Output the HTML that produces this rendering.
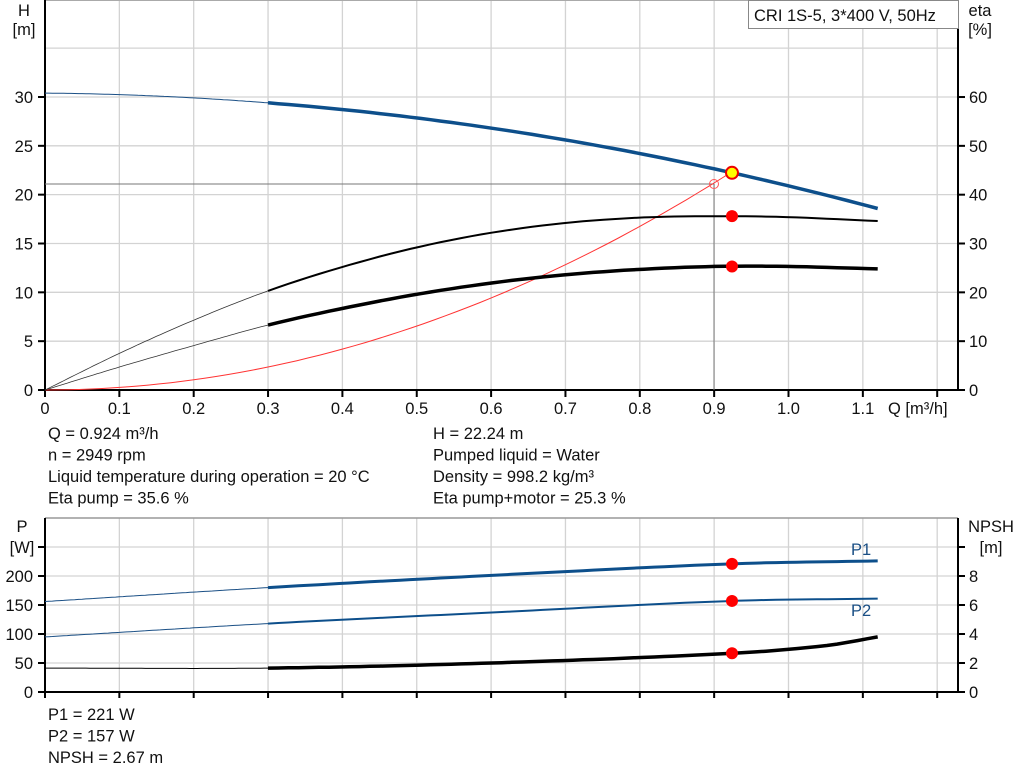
<!DOCTYPE html>
<html><head><meta charset="utf-8"><style>
html,body{margin:0;padding:0;background:#fff}
svg{display:block;font-family:"Liberation Sans",Arial,sans-serif}
</style></head><body>
<svg id="s" width="1024" height="781" xmlns="http://www.w3.org/2000/svg"></svg>
<script>
const s=document.getElementById('s');let h='';
const X0=45,DX=743.5; const xq=q=>X0+q*DX;
const yH=v=>390-v*9.767, yE=v=>390-v*4.883, yP=v=>692-v*0.58, yN=v=>692-v*14.5;
for(let i=1;i<=12;i++){h+=`<line x1="${xq(i/10)}" y1="0" x2="${xq(i/10)}" y2="390" stroke="#d3d3d3" stroke-width="1.3"/>`;}
for(let v=5;v<=35;v+=5){h+=`<line x1="45" y1="${yH(v)}" x2="958" y2="${yH(v)}" stroke="#d3d3d3" stroke-width="1.3"/>`;}
h+=`<line x1="45" y1="0.5" x2="958" y2="0.5" stroke="#aaa"/>`;
for(let i=1;i<=12;i++){h+=`<line x1="${xq(i/10)}" y1="518" x2="${xq(i/10)}" y2="692" stroke="#d3d3d3" stroke-width="1.3"/>`;}
for(let v=50;v<=250;v+=50){h+=`<line x1="45" y1="${yP(v)}" x2="958" y2="${yP(v)}" stroke="#d3d3d3" stroke-width="1.3"/>`;}
h+=`<line x1="45" y1="518" x2="958" y2="518" stroke="#999" stroke-width="1.5"/>`;
h+=`<g stroke="#000" stroke-width="2"><line x1="45" y1="0" x2="45" y2="391"/><line x1="958" y1="0" x2="958" y2="391"/><line x1="38" y1="390" x2="965" y2="390"/>
<line x1="45" y1="518" x2="45" y2="693"/><line x1="958" y1="518" x2="958" y2="693"/><line x1="38" y1="692" x2="965" y2="692"/></g>`;
let t='';
for(let v=0;v<=30;v+=5){let y=yH(v);h+=`<line x1="38" y1="${y}" x2="45" y2="${y}" stroke="#000" stroke-width="2"/>`;t+=`<text x="33" y="${y+6}" text-anchor="end">${v}</text>`;}
for(let v=0;v<=60;v+=10){let y=yE(v);h+=`<line x1="958" y1="${y}" x2="965" y2="${y}" stroke="#000" stroke-width="2"/>`;t+=`<text x="969" y="${y+6}">${v}</text>`;}
for(let i=0;i<=12;i++){let x=xq(i/10);h+=`<line x1="${x}" y1="390" x2="${x}" y2="397" stroke="#000" stroke-width="2"/>`;if(i<=11)t+=`<text x="${x}" y="414" text-anchor="middle">${i==0?'0':(i/10).toFixed(1)}</text>`;}
for(let v=0;v<=250;v+=50){let y=yP(v);h+=`<line x1="38" y1="${y}" x2="45" y2="${y}" stroke="#000" stroke-width="2"/>`;if(v<250)t+=`<text x="33" y="${y+6}" text-anchor="end">${v}</text>`;}
for(let v=0;v<=10;v+=2){let y=yN(v);h+=`<line x1="958" y1="${y}" x2="965" y2="${y}" stroke="#000" stroke-width="2"/>`;if(v<10)t+=`<text x="969" y="${y+6}">${v}</text>`;}
for(let i=0;i<=12;i++){let x=xq(i/10);h+=`<line x1="${x}" y1="692" x2="${x}" y2="698" stroke="#000" stroke-width="2"/>`;}
function path(f,a,b,ys){let p='';for(let k=0;k<=60;k++){let q=a+(b-a)*k/60;p+=(k?'L':'M')+xq(q).toFixed(1)+' '+ys(f(q)).toFixed(1);}return p;}
function interp(pts){return q=>{for(let i=0;i<pts.length-1;i++){let[a,va]=pts[i],[b,vb]=pts[i+1];if(q<=b+1e-9){let u=(q-a)/(b-a);
let m0=i>0?(vb-pts[i-1][1])/(b-pts[i-1][0]):(vb-va)/(b-a),m1=i<pts.length-2?(pts[i+2][1]-va)/(pts[i+2][0]-a):(vb-va)/(b-a);let d=b-a;
let u2=u*u,u3=u2*u;return (2*u3-3*u2+1)*va+(u3-2*u2+u)*d*m0+(-2*u3+3*u2)*vb+(u3-u2)*d*m1;}}return pts[pts.length-1][1];}}
const H=q=>30.4-0.691*q-8.807*q*q;
const EP=interp([[0,0],[0.1,7.5],[0.2,14.3],[0.3,20.3],[0.4,25.2],[0.5,29.2],[0.6,32.2],[0.7,34.2],[0.8,35.3],[0.9,35.6],[1.0,35.4],[1.12,34.6]]);
const ET=interp([[0,0],[0.1,4.7],[0.2,9.1],[0.3,13.3],[0.4,16.7],[0.5,19.6],[0.6,21.9],[0.7,23.6],[0.8,24.7],[0.9,25.3],[1.0,25.3],[1.12,24.8]]);
const P1=interp([[0,156],[0.3,180],[0.6,201],[0.924,221],[1.12,226]]);
const P2=interp([[0,95],[0.3,118],[0.6,137],[0.924,157],[1.12,161]]);
const NP=interp([[0,1.65],[0.3,1.65],[0.6,2.0],[0.924,2.67],[1.05,3.2],[1.12,3.8]]);
const sys=q=>26.17*q*q;
h+=`<line x1="45" y1="184" x2="714" y2="184" stroke="#777" stroke-width="1"/><line x1="714" y1="184" x2="714" y2="390" stroke="#777" stroke-width="1"/>`;
h+=`<path d="${path(sys,0,0.924,yH)}" fill="none" stroke="#f33" stroke-width="1"/>`;
h+=`<path d="${path(H,0,0.3,yH)}" fill="none" stroke="#1a4f85" stroke-width="1"/><path d="${path(H,0.3,1.12,yH)}" fill="none" stroke="#0d4f8b" stroke-width="3.5"/>`;
h+=`<path d="${path(EP,0,0.3,yE)}" fill="none" stroke="#333" stroke-width="0.8"/><path d="${path(EP,0.3,1.12,yE)}" fill="none" stroke="#000" stroke-width="2"/>`;
h+=`<path d="${path(ET,0,0.3,yE)}" fill="none" stroke="#333" stroke-width="0.8"/><path d="${path(ET,0.3,1.12,yE)}" fill="none" stroke="#000" stroke-width="3.5"/>`;
h+=`<path d="${path(P1,0,0.3,yP)}" fill="none" stroke="#1a4f85" stroke-width="1"/><path d="${path(P1,0.3,1.12,yP)}" fill="none" stroke="#0d4f8b" stroke-width="3"/>`;
h+=`<path d="${path(P2,0,0.3,yP)}" fill="none" stroke="#1a4f85" stroke-width="1"/><path d="${path(P2,0.3,1.12,yP)}" fill="none" stroke="#0d4f8b" stroke-width="2"/>`;
h+=`<path d="${path(NP,0,0.3,yN)}" fill="none" stroke="#000" stroke-width="1"/><path d="${path(NP,0.3,1.12,yN)}" fill="none" stroke="#000" stroke-width="3.5"/>`;
const qx=xq(0.924);
h+=`<circle cx="714" cy="184" r="4.5" fill="none" stroke="#f55" stroke-width="1"/>`;
h+=`<circle cx="${qx}" cy="${yH(22.24)}" r="6" fill="#ff0" stroke="#e00" stroke-width="2"/>`;
for(const y of [yE(35.6),yE(25.3),yP(221),yP(157),yN(2.67)])h+=`<circle cx="${qx}" cy="${y}" r="6" fill="#f00"/>`;
h+=`<rect x="748.5" y="0.5" width="210" height="28" fill="#fff" stroke="#888"/>`;
t+=`<text x="754" y="21">CRI 1S-5, 3*400 V, 50Hz</text>`;
t+=`<text x="24" y="16" text-anchor="middle">H</text><text x="24" y="35" text-anchor="middle">[m]</text>`;
t+=`<text x="980" y="16" text-anchor="middle">eta</text><text x="980" y="35" text-anchor="middle">[%]</text>`;
t+=`<text x="888" y="414">Q [m³/h]</text>`;
t+=`<text x="22" y="532" text-anchor="middle">P</text><text x="22" y="553" text-anchor="middle">[W]</text>`;
t+=`<text x="991" y="532" text-anchor="middle">NPSH</text><text x="991" y="553" text-anchor="middle">[m]</text>`;
t+=`<text x="851" y="555" fill="#1a4f85">P1</text><text x="851" y="616" fill="#1a4f85">P2</text>`;
const L=[['Q = 0.924 m³/h','H = 22.24 m'],['n = 2949 rpm','Pumped liquid = Water'],['Liquid temperature during operation = 20 °C','Density = 998.2 kg/m³'],['Eta pump = 35.6 %','Eta pump+motor = 25.3 %']];
L.forEach((r,i)=>{t+=`<text x="48" y="${439+i*21.5}">${r[0]}</text><text x="433" y="${439+i*21.5}">${r[1]}</text>`;});
['P1 = 221 W','P2 = 157 W','NPSH = 2.67 m'].forEach((r,i)=>{t+=`<text x="48" y="${720+i*21.5}">${r}</text>`;});
h+=`<g font-size="16.5" fill="#111">${t}</g>`;
s.innerHTML=h;
</script>
</body></html>
